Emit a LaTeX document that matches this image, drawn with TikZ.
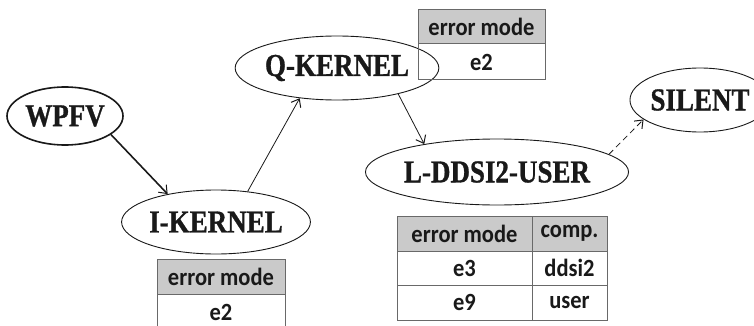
\documentclass[tikz,border=0pt]{standalone}
\usepackage{fontspec}
\setmainfont{Liberation Serif}
\newfontfamily\statefont[BoldFeatures={FakeBold=1}]{Liberation Serif}
\newfontfamily\cellfont{Carlito}
\usetikzlibrary{shapes.geometric,arrows.meta}

\definecolor{inkc}{RGB}{25,25,25}
\definecolor{gridc}{RGB}{105,105,105}
\definecolor{headc}{RGB}{202,202,202}

\newcommand\tallword[1]{\scalebox{1}[1.18]{#1}}
\newcommand\tallcell[1]{\scalebox{1}[1.1]{#1}}

\tikzset{
  state/.style={ellipse, draw=inkc, line width=0.9pt, inner sep=0pt,
    text=inkc, font=\statefont\bfseries\fontsize{27}{27}\selectfont},
  cell/.style={rectangle, draw=gridc, line width=1pt, inner sep=0pt,
    text=inkc, font=\cellfont\bfseries\fontsize{22.5}{22.5}\selectfont},
  headcell/.style={cell, fill=headc},
  link/.style={draw=inkc, line width=0.8pt, -{Straight Barb[length=7pt,width=11pt,line width=1pt]}},
}

\begin{document}
\begin{tikzpicture}[x=1pt,y=-1pt]
\useasboundingbox (0,0) rectangle (754,326);
\clip (0,0) rectangle (754,326);

% states
\node[state, line width=1.6pt, minimum width=116pt, minimum height=58pt] (wpfv) at (65,116) {\tallword{WPFV}};
\node[state, minimum width=143pt, minimum height=64pt] (ik) at (216,222) {\tallword{I-KERNEL}};
\node[state, minimum width=154pt, minimum height=64pt] (qk) at (337,68) {\tallword{Q-KERNEL}};
\node[state, minimum width=194pt, minimum height=66pt] (ld) at (497,172) {\tallword{L-DDSI2-USER}};
\node[state, minimum width=106pt, minimum height=64pt] (sil) at (700,100) {\tallword{SILENT}};

% transitions
\draw[link, line width=1.6pt] (wpfv.-22) -- (ik.150);
\draw[link] (ik.44) -- (qk.-141);
\draw[link] (qk.-23) -- (ld.159);
\draw[link, dashed, dash pattern=on 6pt off 4pt] (ld.9) -- (sil.199);

% error-mode table of Q-KERNEL
\node[headcell, minimum width=127pt, minimum height=34pt] (qh) at (481.5,27) {\tallcell{error mode}};
\node[cell, minimum width=127pt, minimum height=36pt] (qe2) at (481.5,62) {\tallcell{e2}};

% error-mode table of I-KERNEL
\node[headcell, minimum width=128pt, minimum height=35pt] (ih) at (221,276.5) {\tallcell{error mode}};
\node[cell, minimum width=128pt, minimum height=36pt] (ie2) at (221,312) {\tallcell{e2}};

% error-mode table of L-DDSI2-USER
\node[headcell, minimum width=135pt, minimum height=35pt] (lh1) at (464.5,233.5) {\tallcell{error mode}};
\node[headcell, minimum width=75pt, minimum height=35pt] (lh2) at (569.5,233.5) {\tallcell{comp.}};
\node[cell, minimum width=135pt, minimum height=34pt] (le3) at (464.5,268) {\tallcell{e3}};
\node[cell, minimum width=75pt, minimum height=34pt] (lc3) at (569.5,268) {\tallcell{ddsi2}};
\node[cell, minimum width=135pt, minimum height=35pt] (le9) at (464.5,302.5) {\tallcell{e9}};
\node[cell, minimum width=75pt, minimum height=35pt] (lc9) at (569.5,302.5) {\tallcell{user}};
\end{tikzpicture}
\end{document}
